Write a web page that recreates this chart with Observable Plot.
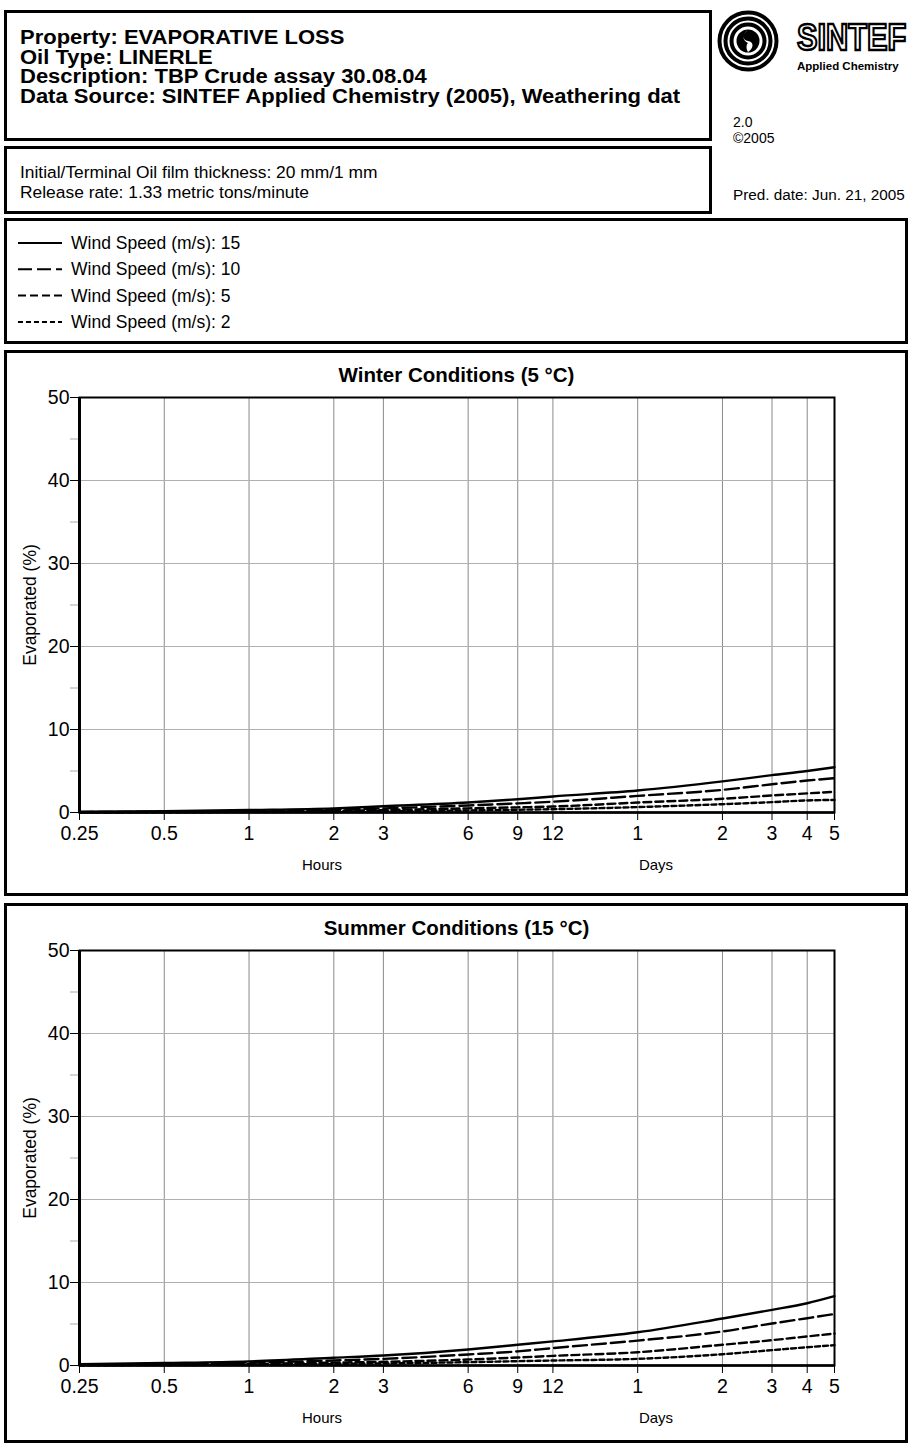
<!DOCTYPE html>
<html>
<head>
<meta charset="utf-8">
<script src="https://cdn.jsdelivr.net/npm/d3@7"></script>
<script src="https://cdn.jsdelivr.net/npm/@observablehq/plot@0.6"></script>
<style>
  html, body { margin: 0; padding: 0; background: #fff; }
  body { font-family: "Liberation Sans", Arial, Helvetica, sans-serif; color: #000; }
  #page { position: relative; width: 911px; height: 1445px; overflow: hidden; background: #fff; }
  .box { position: absolute; border: 3px solid #000; box-sizing: border-box; background: #fff; }
  .abs { position: absolute; white-space: nowrap; }
  .head { font-weight: bold; font-size: 20px; line-height: 19.5px; transform: scaleX(1.1); transform-origin: 0 0; }
  .sub { font-size: 17.4px; line-height: 20px; }
  .ptitle { font-weight: bold; font-size: 20.5px; text-align: center; }
  .xgroup { font-size: 15px; text-align: center; }
</style>
</head>
<body>
<div id="page"></div>
<script>
// Elapsed time in hours at each x tick, and the labels shown under them
const hours = [0.25, 0.5, 1, 2, 3, 6, 9, 12, 24, 48, 72, 96, 120];
const tickLabels = ["0.25", "0.5", "1", "2", "3", "6", "9", "12", "1", "2", "3", "4", "5"];
const yMajor = [0, 10, 20, 30, 40, 50];
const yMinor = [5, 15, 25, 35, 45];

// Wind speeds (m/s)
const speeds = [15, 10, 5, 2];

// Evaporated (%) at each time in `hours`, winter conditions (5 °C)
const winter15 = [0.1, 0.15, 0.3, 0.5, 0.75, 1.2, 1.6, 1.93, 2.65, 3.75, 4.5, 5.0, 5.45];
const winter10 = [0.05, 0.1, 0.2, 0.35, 0.5, 0.85, 1.1, 1.3, 2.0, 2.73, 3.4, 3.85, 4.13];
const winter5  = [0.03, 0.05, 0.1, 0.2, 0.3, 0.5, 0.62, 0.72, 1.2, 1.65, 2.05, 2.3, 2.5];
const winter2  = [0.02, 0.03, 0.05, 0.1, 0.15, 0.25, 0.33, 0.4, 0.65, 1.0, 1.25, 1.45, 1.52];

// Evaporated (%) at each time in `hours`, summer conditions (15 °C)
const summer15 = [0.15, 0.3, 0.5, 0.93, 1.2, 1.93, 2.5, 2.9, 4.0, 5.66, 6.7, 7.5, 8.35];
const summer10 = [0.1, 0.2, 0.35, 0.6, 0.8, 1.33, 1.7, 2.1, 3.0, 4.1, 5.06, 5.7, 6.2];
const summer5  = [0.05, 0.1, 0.2, 0.35, 0.45, 0.72, 0.96, 1.16, 1.6, 2.5, 3.05, 3.5, 3.85];
const summer2  = [0.03, 0.05, 0.1, 0.2, 0.25, 0.4, 0.52, 0.6, 0.8, 1.36, 1.85, 2.2, 2.45];

// Line style per wind speed
const dashFor = {15: null, 10: "14,5", 5: "8,4", 2: "5,3"};

const FONT = '"Liberation Sans", Arial, Helvetica, sans-serif';
const page = document.getElementById("page");

function el(tag, cls, css, html) {
  const e = document.createElement(tag);
  if (cls) e.className = cls;
  Object.assign(e.style, css || {});
  if (html != null) e.innerHTML = html;
  page.appendChild(e);
  return e;
}

// ---- Header boxes ----
el("div", "box", {left: "4px", top: "10px", width: "708px", height: "131px"});
el("div", "abs head", {left: "20px", top: "28px"},
  "Property: EVAPORATIVE LOSS<br>Oil Type: LINERLE<br>Description: TBP Crude assay 30.08.04<br>Data Source: SINTEF Applied Chemistry (2005), Weathering dat");

el("div", "box", {left: "4px", top: "146px", width: "708px", height: "68px"});
el("div", "abs sub", {left: "20px", top: "162px"},
  "Initial/Terminal Oil film thickness: 20 mm/1 mm<br>Release rate: 1.33 metric tons/minute");

el("div", "abs", {left: "733px", top: "114px", fontSize: "14px", lineHeight: "16px"}, "2.0<br>&copy;2005");
el("div", "abs", {left: "733px", top: "186px", fontSize: "15.3px"}, "Pred. date: Jun. 21, 2005");

// ---- Logo ----
const logo = d3.select(page).append("svg")
  .attr("width", 195).attr("height", 68)
  .style("position", "absolute").style("left", "716px").style("top", "8px");
const lg = logo.append("g").attr("transform", "translate(32,33)");
[28.5, 22.5, 16.5].forEach(r => lg.append("circle").attr("r", r).attr("fill", "none").attr("stroke", "#000").attr("stroke-width", 4));
lg.append("circle").attr("r", 11.5).attr("fill", "#000");
lg.append("path").attr("d", "M0,-11 C-6,-7 -6,-1 0,0 C6,1 6,7 0,11 C-2,8 -2,4 0,2 C-5,0 -7,-6 0,-11 Z").attr("fill", "#fff");
logo.append("text").attr("transform", "translate(81,42) scale(1.28,1.5)")
  .attr("font-family", FONT).attr("font-weight", "bold")
  .attr("font-size", 24).attr("fill", "#fff").attr("stroke", "#000").attr("stroke-width", 1.6)
  .text("SINTEF");
logo.append("text").attr("x", 81).attr("y", 62).attr("font-family", FONT).attr("font-weight", "bold")
  .attr("font-size", 11.5).attr("fill", "#000").text("Applied Chemistry");

// ---- Legend ----
el("div", "box", {left: "4px", top: "218px", width: "904px", height: "126px"});
const leg = d3.select(page).append("svg")
  .attr("width", 300).attr("height", 110)
  .style("position", "absolute").style("left", "0px").style("top", "230px");
speeds.forEach((s, i) => {
  const y = 13 + i * 26.3;
  leg.append("line").attr("x1", 18).attr("x2", 62).attr("y1", y).attr("y2", y)
    .attr("stroke", "#000").attr("stroke-width", 2)
    .attr("stroke-dasharray", dashFor[s]);
  leg.append("text").attr("x", 71).attr("y", y + 6).attr("font-family", FONT)
    .attr("font-size", 17.5).text(`Wind Speed (m/s): ${s}`);
});

// ---- Chart panels ----
const labelOf = new Map(hours.map((h, i) => [h, tickLabels[i]]));

function panel(top, boxHeight, title, series) {
  const H = 546;
  el("div", "box", {left: "4px", top: top + "px", width: "904px", height: boxHeight + "px"});
  el("div", "abs ptitle", {left: "79px", width: "755px", top: (top + 13) + "px"}, title);

  const rows = [];
  speeds.forEach((s, k) => hours.forEach((h, i) => rows.push({speed: s, hours: h, value: series[k][i]})));

  const lines = speeds.map(s => Plot.line(rows.filter(d => d.speed === s), {
    x: "hours", y: "value", stroke: "#000", strokeWidth: 2.4,
    strokeDasharray: dashFor[s], curve: "monotone-x"
  }));

  const chart = Plot.plot({
    width: 911,
    height: H,
    marginLeft: 79, marginRight: 77, marginTop: 47, marginBottom: 84,
    x: {type: "log", domain: [0.25, 120]},
    y: {domain: [0, 50]},
    style: {fontFamily: FONT, fontSize: "19.5px", background: "transparent", overflow: "visible", color: "#000"},
    marks: [
      Plot.gridX(hours.slice(1, -1), {stroke: "#8a8a8a", strokeOpacity: 1, strokeWidth: 1}),
      Plot.gridY(yMajor.slice(1, -1), {stroke: "#b0b0b0", strokeOpacity: 1, strokeWidth: 1}),
      Plot.axisY(yMinor, {tickFormat: () => "", stroke: "#aaa", tickSize: 9, label: null}),
      Plot.axisY(yMajor, {tickSize: 9, tickPadding: 1, label: null, tickFormat: d => String(d)}),
      Plot.axisX(hours, {tickSize: 8, label: null, tickFormat: () => ""}),
      Plot.text(hours, {x: d => d, text: d => labelOf.get(d), frameAnchor: "bottom",
        lineAnchor: "top", dy: 14, fill: "#000"}),
      Plot.text(["Evaporated (%)"], {frameAnchor: "left", textAnchor: "middle", rotate: -90,
        dx: -49, fontSize: 17.5, fill: "#000"}),
      ...lines,
      Plot.frame({stroke: "#000", strokeWidth: 2}),
      Plot.ruleX([0.25], {stroke: "#000", strokeWidth: 3}),
      Plot.ruleY([0], {stroke: "#000", strokeWidth: 2.5})
    ]
  });
  chart.style.position = "absolute";
  chart.style.left = "0px";
  chart.style.top = top + "px";
  page.appendChild(chart);

  el("div", "abs xgroup", {left: "272px", width: "100px", top: (top + 506) + "px"}, "Hours");
  el("div", "abs xgroup", {left: "606px", width: "100px", top: (top + 506) + "px"}, "Days");
}

panel(350, 546, "Winter Conditions (5 °C)", [winter15, winter10, winter5, winter2]);
panel(903, 540, "Summer Conditions (15 °C)", [summer15, summer10, summer5, summer2]);
</script>
</body>
</html>
